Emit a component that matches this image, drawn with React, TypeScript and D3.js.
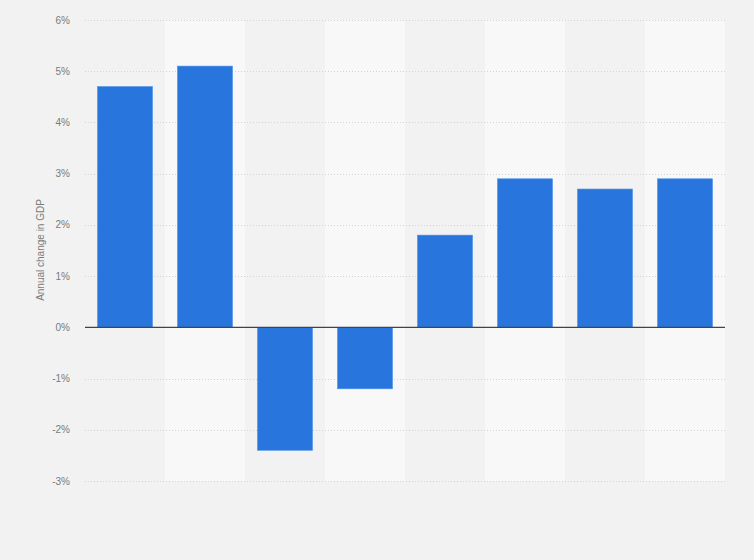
import * as d3 from "d3";
import React, { useRef, useEffect } from "react";

// values (annual GDP change, %)
const categories = ["1", "2", "3", "4", "5", "6", "7", "8"];
const values = [4.7, 5.1, -2.4, -1.2, 1.8, 2.9, 2.7, 2.9];
const yTicks = [-3, -2, -1, 0, 1, 2, 3, 4, 5, 6];
const yLabel = "Annual change in GDP";

const W = 754;
const H = 560;
const margin = { top: 20, right: 29, bottom: 79, left: 85 };

function App() {
  const ref = useRef<SVGSVGElement>(null);

  useEffect(() => {
    const svg = d3.select(ref.current);
    svg.selectAll("*").remove();

    const innerW = W - margin.left - margin.right;
    const innerH = H - margin.top - margin.bottom;

    svg
      .append("rect")
      .attr("width", W)
      .attr("height", H)
      .attr("fill", "#f2f2f2");

    const g = svg
      .append("g")
      .attr("transform", `translate(${margin.left},${margin.top})`);

    const x = d3.scaleBand().domain(categories).range([0, innerW]).paddingInner(0).paddingOuter(0);
    const y = d3.scaleLinear().domain([-3, 6]).range([innerH, 0]);

    // alternating column bands
    g.selectAll(".band")
      .data(categories)
      .enter()
      .append("rect")
      .attr("class", "band")
      .attr("x", (d) => x(d)!)
      .attr("y", 0)
      .attr("width", x.bandwidth())
      .attr("height", innerH)
      .attr("fill", (d, i) => (i % 2 === 1 ? "#f8f8f8" : "#f2f2f2"));

    // gridlines
    g.selectAll(".grid")
      .data(yTicks.filter((t) => t !== 0))
      .enter()
      .append("line")
      .attr("class", "grid")
      .attr("x1", 0)
      .attr("x2", innerW)
      .attr("y1", (d) => Math.round(y(d)) + 0.5)
      .attr("y2", (d) => Math.round(y(d)) + 0.5)
      .attr("stroke", "#d4d4d4")
      .attr("stroke-dasharray", "1,2");

    // tick labels
    g.selectAll(".tick-label")
      .data(yTicks)
      .enter()
      .append("text")
      .attr("class", "tick-label")
      .attr("x", -15)
      .attr("y", (d) => y(d))
      .attr("dy", "0.35em")
      .attr("text-anchor", "end")
      .attr("font-family", "Arial, 'Liberation Sans', sans-serif")
      .attr("font-size", 10)
      .attr("fill", "#7a7a7a")
      .text((d) => d + "%");

    const bw = 55;
    g.selectAll(".bar")
      .data(values)
      .enter()
      .append("rect")
      .attr("class", "bar")
      .attr("x", (d, i) => x(categories[i])! + (x.bandwidth() - bw) / 2)
      .attr("y", (d) => y(Math.max(0, d)))
      .attr("width", bw)
      .attr("height", (d) => Math.abs(y(d) - y(0)))
      .attr("fill", "#2876dd")
      .attr("stroke", "#4a8fe6")
      .attr("stroke-width", 0.6);

    // zero line
    g.append("line")
      .attr("x1", 0)
      .attr("x2", innerW)
      .attr("y1", y(0))
      .attr("y2", y(0))
      .attr("stroke", "#444")
      .attr("stroke-width", 1.3);

    // axis title
    svg
      .append("text")
      .attr("transform", `translate(44,250) rotate(-90)`)
      .attr("text-anchor", "middle")
      .attr("font-family", "Arial, 'Liberation Sans', sans-serif")
      .attr("font-size", 10)
      .attr("fill", "#7a7a7a")
      .text(yLabel);
  }, []);

  return (
    <svg
      ref={ref}
      width={W}
      height={H}
      style={{ position: "absolute", left: 0, top: 0, display: "block" }}
    ></svg>
  );
}

export default App;
